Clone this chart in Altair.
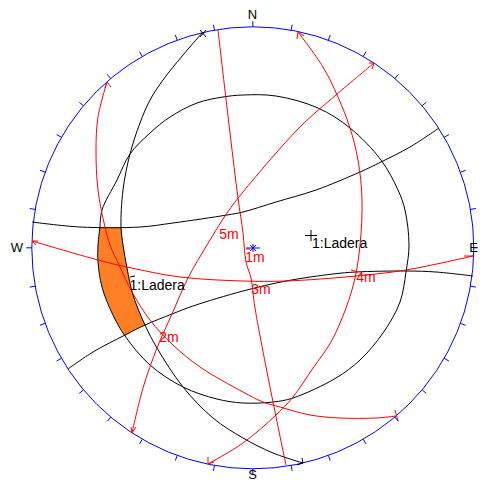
import math
import altair as alt
import pandas as pd

# Black curves (screen-read coordinates)
cone = [(100,227),(102,210),(117,180),(130,154),(150,133),(170,117),(197,103),(223,97),(243,95),(276,96),(318,108),(350,128),(381,160),(398,190),(405,210),(409,245),(406,272),(400,302),(383,333),(360,360),(336,378),(293,398),(273,402),(243,403),(217,399),(183,387),(150,365),(125,336),(112,313),(102,287),(98,262),(98,245),(100,227)]
black_a = [(203,32),(183,55),(163,80),(150,100),(140,123),(130,154),(123,190),(121,227),(123,245),(127,268),(133,295),(145,325),(157,348),(183,387),(213,418),(243,438),(273,453),(303,463)]
black_b = [(32,222),(80,227),(140,227),(173,223),(227,215),(243,212),(276,202),(316,190),(360,172),(381,162),(410,147),(439,128)]
black_c = [(473,276),(436,272),(406,271),(356,272),(333,274),(286,281),(243,291),(193,306),(172,314),(145,325),(125,335),(93,352),(68,369)]
black_marks = [
    [(200,30),(206,37)], [(200,37),(206,30)],
    [(303,463),(302,458)], [(303,463),(297,465)],
    [(305,235.5),(317,235.5)], [(311,230),(311,241)],
    [(130,277),(135,276)],
]

# Red curves
red_a = [(218,30),(230,133),(238,198),(243,233),(246,262),(251,278),(255,308),(273,402),(286,465)]
red_b = [(374,63),(336,95),(300,127),(243,192),(227,213),(207,245),(188,278),(172,314),(157,348),(143,388),(132,433)]
red_c = [(298,32),(323,67),(338,97),(350,128),(358,160),(362,200),(360,245),(355,278),(346,308),(331,342),(313,368),(293,397),(276,415),(243,443),(208,464)]
red_d = [(32,241),(98,260),(127,267),(180,277),(243,281),(286,281),(356,276),(406,270),(473,256)]
red_e = [(107,82),(98,117),(96,150),(98,190),(105,227),(110,245),(120,267),(132,292),(150,320),(173,345),(200,367),(243,392),(263,402),(280,407),(310,415),(340,418),(376,418),(396,416)]
red_marks = [
    [(369,63),(374,63),(372,69)],
    [(297,39),(298,32),(304,36)],
    [(111,87),(107,82),(105,88)],
    [(38,241),(32,241),(36,245)],
    [(464,256),(473,256)],
    [(208,457),(208,464),(214,462)],
    [(395,410),(398,421)],
    [(131,427),(132,433),(136,427)],
    [(351,270),(358,272)],
    [(246,249),(250,249)],
]

# Orange wedge: y, left edge x, right edge x
wedge_y = [227,245,262,268,287,295,313,325,330,336]
wedge_left = [99.5,98,98,98.5,102,104.5,112,118,121.5,125]
wedge_right = [121,123,125.5,127,131,133,140,145,135,125]

# Blue net
net_center = (252.8, 247.8)
net_radius = 221
net_diameter = 442
tick_azimuths = list(range(0, 360, 10))
blue_marks = [[(246,248),(260,248)], [(253,244),(253,252)], [(250,245),(256,251)], [(250,251),(256,245)]]

# Text
red_labels = [("5m",229,235),("1m",255,258),("3m",261,290),("4m",366,278),("2m",169,338)]
black_labels = [("1:Ladera",312,244),("1:Ladera",129.5,286)]
cardinals = [("N",252.5,15),("W",17,247.5),("S",252.5,475)]
east = [("E",478,248)]


def frame(series):
    rows = []
    for s, pts in enumerate(series):
        for i, (x, y) in enumerate(pts):
            rows.append({"s": s, "i": i, "x": x, "y": y})
    return pd.DataFrame(rows)


xs = alt.Scale(domain=[8, 478], nice=False, zero=False)
ys = alt.Scale(domain=[482, 8], nice=False, zero=False)
X = alt.X("x:Q", scale=xs, axis=None)
Y = alt.Y("y:Q", scale=ys, axis=None)


def lines(series, color, interpolate="linear"):
    return alt.Chart(frame(series)).mark_line(
        color=color, strokeWidth=1, clip=False, interpolate=interpolate
    ).encode(x=X, y=Y, detail="s:N", order="i:Q")


def labels(items, color, align="center", size=14):
    df = pd.DataFrame(items, columns=["t", "x", "y"])
    return alt.Chart(df).mark_text(
        color=color, font="Liberation Sans", fontSize=size, align=align, baseline="middle"
    ).encode(x=X, y=Y, text="t:N")


ticks = []
for a in tick_azimuths:
    sa, ca = math.sin(math.radians(a)), math.cos(math.radians(a))
    ticks.append([
        (net_center[0] + net_radius * sa, net_center[1] - net_radius * ca),
        (net_center[0] + (net_radius + 5.5) * sa, net_center[1] - (net_radius + 5.5) * ca),
    ])

wedge = alt.Chart(pd.DataFrame({"wy": wedge_y, "wl": wedge_left, "wr": wedge_right})).mark_area(
    color="#ff7f27", orient="horizontal", opacity=1, line=False
).encode(
    x=alt.X("wl:Q", scale=xs, axis=None, stack=None),
    x2=alt.X2("wr"),
    y=alt.Y("wy:Q", scale=ys, axis=None),
)

net = alt.Chart(pd.DataFrame({"x": [net_center[0]], "y": [net_center[1]]})).mark_point(
    filled=False, color="#0000ff", strokeWidth=1, opacity=1, size=net_diameter ** 2, clip=False
).encode(x=X, y=Y)

chart = alt.layer(
    wedge,
    net,
    lines(ticks, "#0000ff"),
    lines(blue_marks, "#0000ff"),
    lines([cone, black_a, black_b, black_c], "#000000", "catmull-rom"),
    lines(black_marks, "#000000"),
    lines([red_a, red_b, red_c, red_d, red_e], "#ff0000", "catmull-rom"),
    lines(red_marks, "#ff0000"),
    labels(red_labels, "#ff0000"),
    labels(black_labels, "#000000", "left"),
    labels(cardinals, "#000000", size=13),
    labels(east, "#000000", "right", size=13),
).properties(
    width=470, height=474, padding=0, background="white",
    autosize=alt.AutoSizeParams(type="none"),
).configure_view(stroke=None)

chart.save("out.html", embed_options={"renderer": "svg", "actions": False})
